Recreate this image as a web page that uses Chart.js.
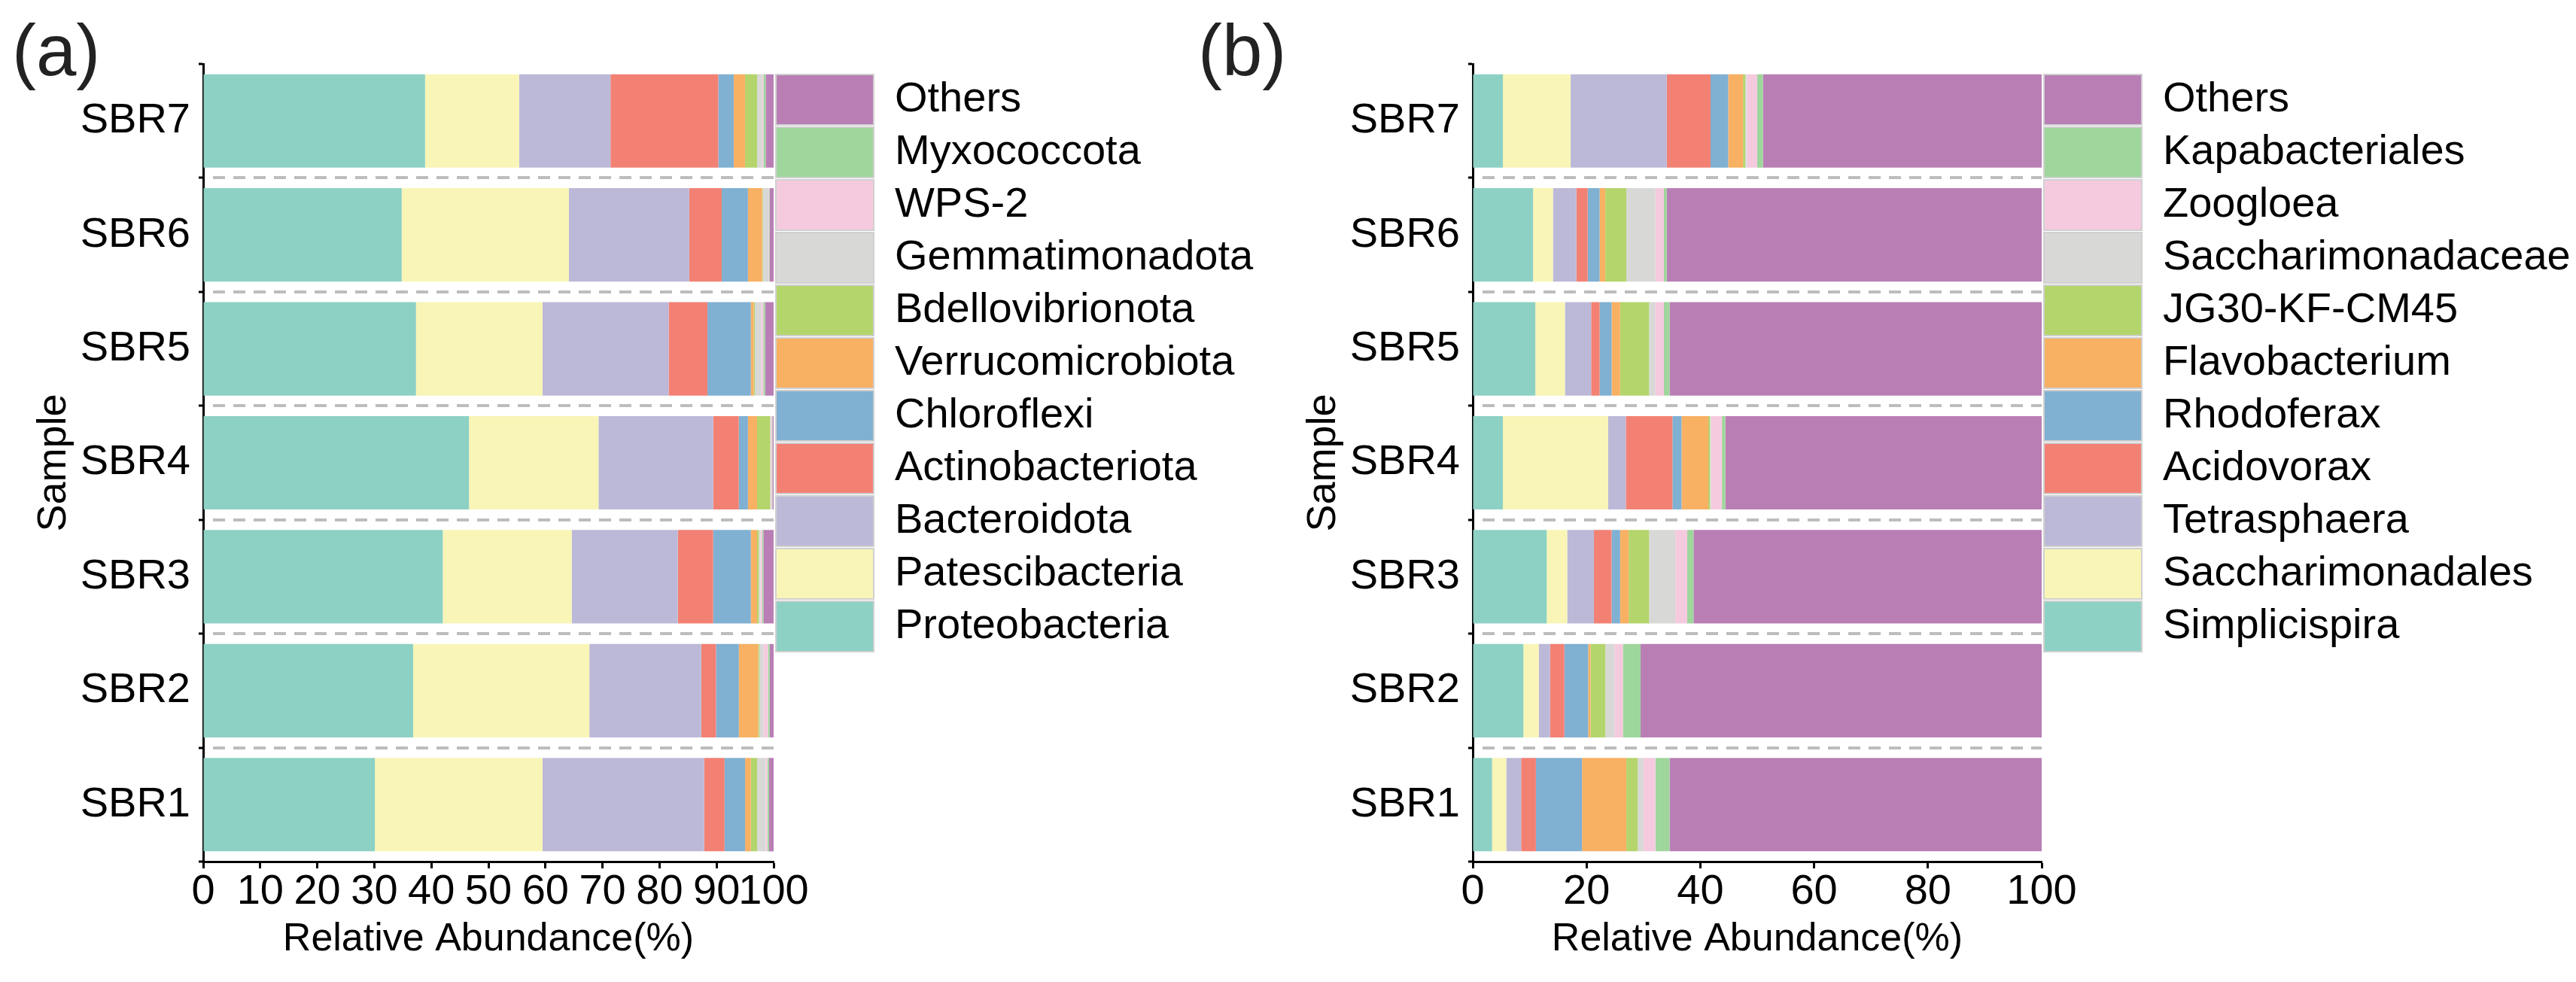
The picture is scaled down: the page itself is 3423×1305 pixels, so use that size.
<!DOCTYPE html>
<html>
<head>
<meta charset="utf-8">
<script src="https://cdn.jsdelivr.net/npm/chart.js@4.4.1/dist/chart.umd.min.js"></script>
<style>
  html, body { margin: 0; padding: 0; background: #fff; }
  #wrap { position: relative; width: 3423px; height: 1305px; overflow: hidden; }
  canvas { position: absolute; top: 0; }
  .tag { position: absolute; top: 19px; font: 96px/96px "Liberation Sans", Arial, sans-serif; color: #222; }
</style>
</head>
<body>
<div id="wrap">
  <div class="tag" style="left:16px">(a)</div>
  <div class="tag" style="left:1592px">(b)</div>
  <canvas id="chartA" width="1700" height="1305" style="left:0"></canvas>
  <canvas id="chartB" width="1750" height="1305" style="left:1687px"></canvas>
</div>
<script>
const samples = ['SBR1', 'SBR2', 'SBR3', 'SBR4', 'SBR5', 'SBR6', 'SBR7'];

// (a) phylum level, values per sample SBR1..SBR7 (%)
const phyla = ['Proteobacteria', 'Patescibacteria', 'Bacteroidota', 'Actinobacteriota', 'Chloroflexi',
  'Verrucomicrobiota', 'Bdellovibrionota', 'Gemmatimonadota', 'WPS-2', 'Myxococcota', 'Others'];
const proteobacteria    = [30.1, 36.8, 42.0, 46.6, 37.3, 34.8, 38.9];
const patescibacteria   = [29.4, 30.9, 22.6, 22.7, 22.2, 29.3, 16.5];
const bacteroidota      = [28.3, 19.6, 18.6, 20.1, 22.1, 21.1, 16.0];
const actinobacteriota  = [3.6, 2.6, 6.2, 4.5, 6.8, 5.7, 18.9];
const chloroflexi       = [3.6, 4.0, 6.6, 1.6, 7.6, 4.6, 2.7];
const verrucomicrobiota = [1.0, 3.4, 1.1, 1.6, 0.5, 2.5, 2.0];
const bdellovibrionota  = [1.1, 0.2, 0.3, 2.3, 0.2, 0.1, 2.1];
const gemmatimonadota   = [1.5, 0.7, 0.3, 0.1, 1.1, 1.0, 0.9];
const wps2              = [0.3, 0.8, 0.3, 0.2, 0.4, 0.1, 0.2];
const myxococcota       = [0.3, 0.3, 0.2, 0.1, 0.3, 0.1, 0.4];
const othersA           = [0.8, 0.7, 1.8, 0.2, 1.5, 0.7, 1.4];

// (b) genus level
const genera = ['Simplicispira', 'Saccharimonadales', 'Tetrasphaera', 'Acidovorax', 'Rhodoferax',
  'Flavobacterium', 'JG30-KF-CM45', 'Saccharimonadaceae', 'Zoogloea', 'Kapabacteriales', 'Others'];
const simplicispira      = [3.4, 8.9, 13.0, 5.3, 11.0, 10.6, 5.3];
const saccharimonadales  = [2.5, 2.7, 3.6, 18.5, 5.2, 3.5, 11.9];
const tetrasphaera       = [2.6, 2.0, 4.7, 3.1, 4.6, 4.1, 16.9];
const acidovorax         = [2.6, 2.5, 3.1, 8.2, 1.5, 2.0, 7.7];
const rhodoferax         = [8.1, 4.2, 1.5, 1.6, 2.1, 2.1, 3.1];
const flavobacterium     = [7.8, 0.4, 1.5, 4.7, 1.5, 1.0, 2.6];
const jg30               = [2.0, 2.6, 3.6, 0.3, 5.1, 3.7, 0.4];
const saccharimonadaceae = [1.0, 1.6, 4.6, 0.2, 1.1, 5.1, 0.3];
const zoogloea           = [2.1, 1.5, 2.1, 1.9, 1.5, 1.5, 1.8];
const kapabacteriales    = [2.5, 3.1, 1.1, 0.6, 1.0, 0.5, 1.0];
const othersB            = [65.4, 70.5, 61.2, 55.6, 65.4, 65.9, 49.0];

const ticksA = [0, 10, 20, 30, 40, 50, 60, 70, 80, 90, 100];
const ticksB = [0, 20, 40, 60, 80, 100];

const palette = ['#8DD1C4', '#F9F5B7', '#BCB9D8', '#F28174', '#80B0D2', '#F8B063',
  '#B4D56C', '#D8D8D6', '#F5CADF', '#9FD69C', '#B97FB5'];

const FONT = '"Liberation Sans", Arial, sans-serif';
Chart.defaults.font.family = FONT;
Chart.defaults.color = '#000';

const LEGEND_FONT = 56, BOX_W = 130, BOX_H = 67, LEGEND_PAD = 3;

// legend width as Chart.js computes it, so the plot area ends where wanted
function legendWidth(names) {
  const ctx = document.createElement('canvas').getContext('2d');
  ctx.font = `${LEGEND_FONT}px ${FONT}`;
  const maxText = Math.max(...names.map(n => ctx.measureText(n).width));
  return LEGEND_PAD + BOX_W + LEGEND_FONT / 2 + maxText + 10;
}

function makeChart(canvasId, names, series, tickValues, plotRight) {
  const canvas = document.getElementById(canvasId);
  const padRight = Math.max(0, canvas.width - plotRight - legendWidth(names));
  const datasets = names.map((name, i) => ({
    label: name,
    data: series[i],
    backgroundColor: palette[i],
    borderWidth: 0,
    barPercentage: 0.82,
    categoryPercentage: 1.0
  }));

  return new Chart(canvas, {
    type: 'bar',
    data: { labels: samples, datasets },
    options: {
      indexAxis: 'y',
      responsive: false,
      animation: false,
      events: [],
      layout: { padding: { top: 85, left: 0, bottom: 0, right: padRight } },
      plugins: {
        tooltip: { enabled: false },
        legend: {
          position: 'right',
          align: 'start',
          reverse: true,
          maxWidth: 2000,
          title: { display: true, text: '', font: { size: 10, lineHeight: 1.1 }, padding: 0 },
          labels: {
            boxWidth: BOX_W,
            boxHeight: BOX_H,
            padding: LEGEND_PAD,
            color: '#000',
            font: { size: LEGEND_FONT },
            generateLabels(chart) {
              const items = Chart.defaults.plugins.legend.labels.generateLabels(chart);
              items.forEach(it => { it.lineWidth = 2; it.strokeStyle = '#d0d0d0'; });
              return items;
            }
          }
        }
      },
      scales: {
        x: {
          stacked: true,
          min: 0,
          max: 100,
          afterBuildTicks: s => { s.ticks = tickValues.map(v => ({ value: v })); },
          afterFit: s => { s.height = 160; },
          ticks: { autoSkip: false, maxRotation: 0, minRotation: 0, padding: 1, color: '#000',
            font: { size: 56, lineHeight: 1.1 } },
          grid: { drawOnChartArea: false, drawTicks: true, tickLength: 9, tickColor: '#000', tickWidth: 3 },
          border: { color: '#000', width: 3 },
          title: { display: true, text: 'Relative Abundance(%)', color: '#000',
            font: { size: 52 }, padding: { top: 0, bottom: 25 } }
        },
        y: {
          stacked: true,
          reverse: true,
          afterFit: s => { s.width = 270; },
          ticks: { autoSkip: false, padding: 11, color: '#000', font: { size: 56 } },
          grid: {
            color: c => (c.type === 'tick' && c.index > 0) ? '#BDBDBD' : 'rgba(0,0,0,0)',
            lineWidth: 4,
            drawTicks: true,
            tickLength: 6,
            tickColor: '#000',
            tickWidth: 3,
            tickBorderDash: []
          },
          border: { color: '#000', width: 3, dash: [16, 11], dashOffset: 16 },
          title: { display: true, text: 'Sample', color: '#000',
            font: { size: 54 }, padding: { top: 40, bottom: 0 } }
        }
      }
    }
  });
}

makeChart('chartA', phyla, [proteobacteria, patescibacteria, bacteroidota, actinobacteriota, chloroflexi,
  verrucomicrobiota, bdellovibrionota, gemmatimonadota, wps2, myxococcota, othersA], ticksA, 1028);

makeChart('chartB', genera, [simplicispira, saccharimonadales, tetrasphaera, acidovorax, rhodoferax,
  flavobacterium, jg30, saccharimonadaceae, zoogloea, kapabacteriales, othersB], ticksB, 1026);
</script>
</body>
</html>
